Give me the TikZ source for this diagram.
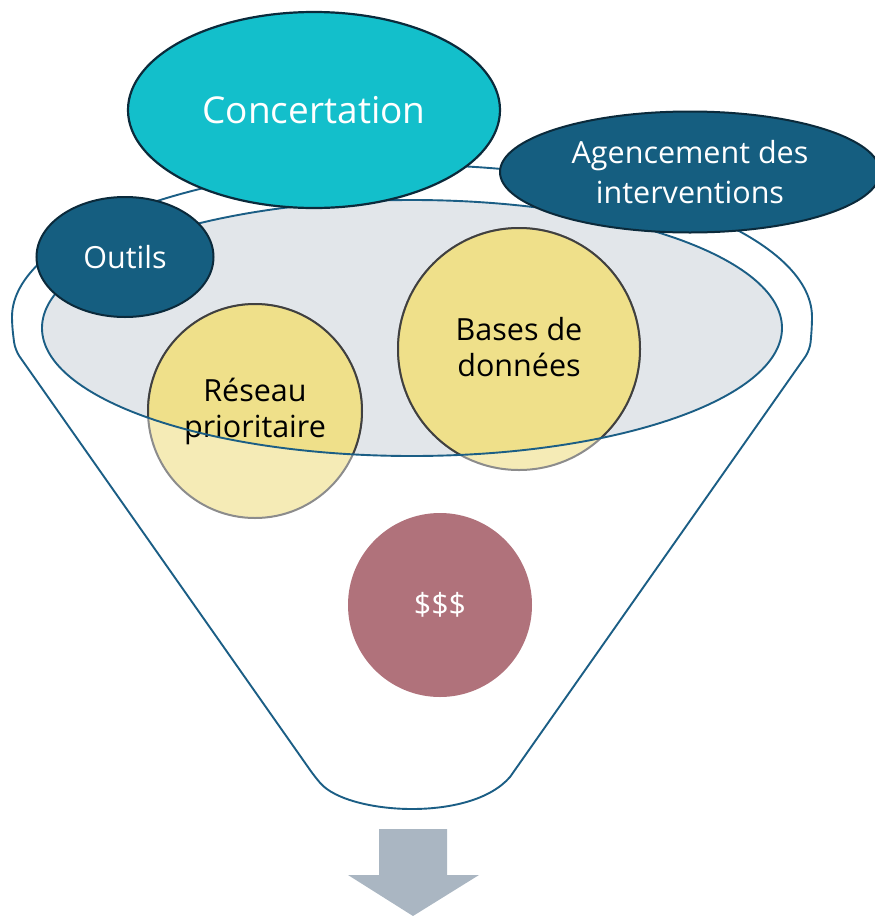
\documentclass[tikz,border=0pt]{standalone}
\usepackage{fontspec}
\setmainfont{Open Sans}
\usetikzlibrary{shapes.geometric}
\definecolor{funnelline}{HTML}{1B5E85}
\definecolor{graybg}{HTML}{E2E6EA}
\definecolor{cyanfill}{HTML}{13BFCB}
\definecolor{bluefill}{HTML}{155E80}
\definecolor{darkedge}{HTML}{0B2A3B}
\definecolor{yellowfill}{HTML}{EFE08A}
\definecolor{paleyellow}{HTML}{F5EBB6}
\definecolor{mauve}{HTML}{B0727B}
\definecolor{arrowgray}{HTML}{AAB6C2}
\tikzset{
  bluelabel/.style={ellipse, fill=bluefill, draw=darkedge, line width=2pt, text=white, inner sep=0pt, align=center, font=\fontsize{30.5}{40}\selectfont},
  yellowtext/.style={text=black, align=center, font=\fontsize{30.5}{36}\selectfont},
}
\begin{document}
\begin{tikzpicture}[x=1pt,y=-1pt]
\useasboundingbox (0,0) rectangle (875,916);
\clip (0,0) rectangle (875,916);
% funnel outline
\draw[funnelline, line width=1.9pt, fill=white, rounded corners=8pt]
  (812,325) arc[start angle=0, end angle=-180, x radius=400, y radius=160]
  -- (15,350) -- (315,777) [sharp corners] .. controls (335,800) and (375,809) .. (412,809)
  .. controls (450,809) and (490,800) .. (510,777) [rounded corners=8pt] -- (810,350) -- cycle;
% gray ellipse fill
\fill[graybg] (412,328) ellipse [x radius=370, y radius=128];
% yellow circles, pale version
\node[circle, minimum size=214pt, inner sep=0pt, fill=paleyellow, draw=gray!90, line width=2pt] (reseau) at (255,411) {};
\node[circle, minimum size=242pt, inner sep=0pt, fill=paleyellow, draw=gray!90, line width=2pt] (bases) at (519,349) {};
% saturated inside the ellipse
\begin{scope}
  \clip (412,328) ellipse [x radius=370, y radius=128];
  \fill[yellowfill, draw=black!75, line width=2pt] (reseau.center) circle[radius=107pt];
  \fill[yellowfill, draw=black!75, line width=2pt] (bases.center) circle[radius=121pt];
\end{scope}
\node[yellowtext] (reseautext) at (255,411) {Réseau\\prioritaire};
\node[yellowtext] (basestext) at (519,347) {Bases de\\données};
% gray ellipse outline
\draw[funnelline, line width=1.9pt] (412,328) ellipse [x radius=370, y radius=128];
% top ellipses
\node[ellipse, minimum width=372pt, minimum height=196pt, inner sep=0pt, fill=cyanfill, draw=darkedge, line width=2.2pt, text=white, font=\fontsize{37}{40}\selectfont] (concertation) at (314,110) {Concertation};
\node[bluelabel, minimum width=380pt, minimum height=121pt] (agencement) at (690,172) {Agencement des\\interventions};
\node[bluelabel, minimum width=177pt, minimum height=120pt] (outils) at (125,257) {Outils};
% money
\node[circle, minimum size=184pt, inner sep=0pt, fill=mauve, text=white, font=\fontsize{30.5}{36}\selectfont] (money) at (440,605) {\$\$\$};
% arrow
\fill[arrowgray] (379,829) -- (447,829) -- (447,875) -- (479,875) -- (413,916) -- (348,875) -- (379,875) -- cycle;
\end{tikzpicture}
\end{document}
